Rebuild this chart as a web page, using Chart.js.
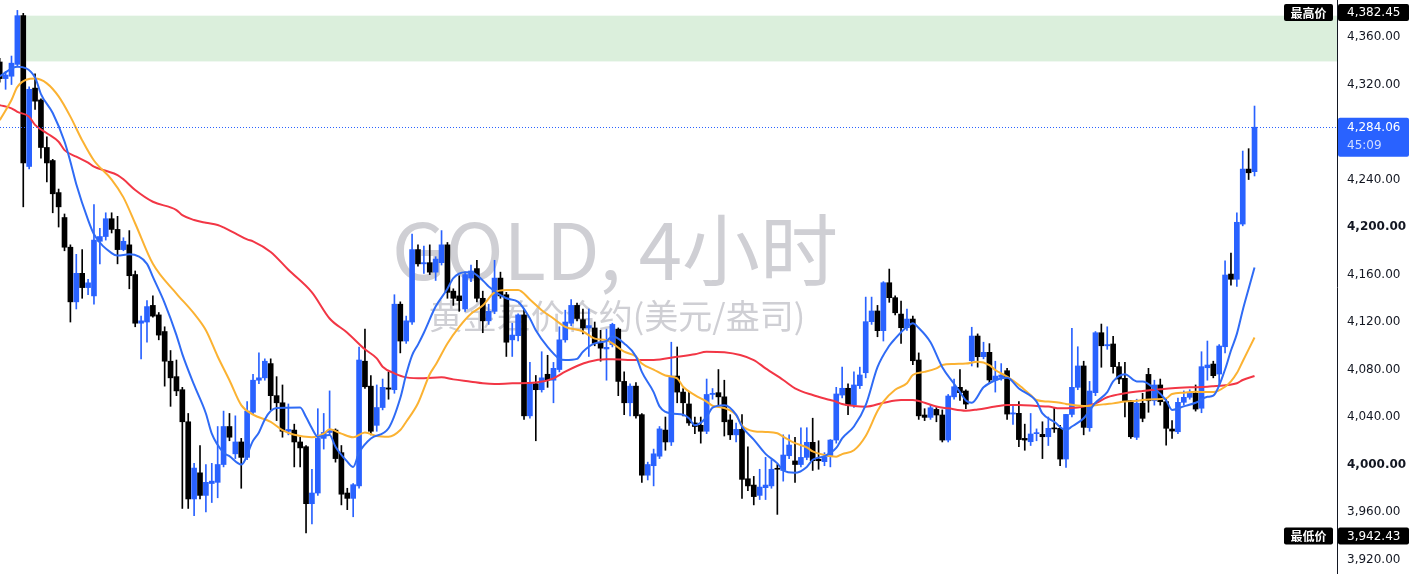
<!DOCTYPE html>
<html>
<head>
<meta charset="utf-8">
<script src="https://cdn.jsdelivr.net/npm/chart.js@4.4.1/dist/chart.umd.min.js"></script>
<style>
html, body { margin: 0; padding: 0; background: #fff; }
#wrap { width: 1410px; height: 574px; position: relative; }
</style>
</head>
<body>
<div id="wrap"><canvas id="chart"></canvas></div>
<script>
// GOLD 4h candles (oldest first)
const opens = [4339,4325,4327,4337,4378,4251,4317,4307,4267,4256,
  4229,4208,4183,4137,4161,4149,4142,4188,4192,4207,
  4198,4181,4185,4160,4119,4120,4134,4126,4112,4087,
  4074,4063,4036,3971,3993,3974,3984,3985,4000,4032,
  4009,4019,4006,4044,4071,4073,4085,4058,4052,4028,
  4029,4019,4015,3967,3976,4022,4027,4029,4010,3976,
  3971.5,3982,4087,4066,4033,4048,4064.5,4063,4135,4104,
  4120,4181,4169,4170,4162,4170,4185,4146,4142,4131,
  4157,4165,4140,4121,4129,4157,4143,4105,4108.5,4126,
  4041,4068,4063,4076,4071,4080,4105,4119,4134,4122,
  4115,4115,4102.5,4097.3,4101,4114,4070,4052,4066,4042,
  3991,3999,4007,4029,4019,4074.5,4061,4051,4035,4033,
  4028,4059,4060.5,4057,4037.5,4025,4029.6,3988,3982.7,3974,
  3980.5,3982,3996.5,3995,4007.4,4003,4000,4006,4018.7,4004.4,
  4002.4,4006.6,4020.6,4058.5,4064.2,4050,4066.4,4077.3,4120.3,4129.3,
  4112.7,4153.1,4140.5,4126.7,4115.2,4122.5,4088,4041.7,4039.7,4046.4,
  4041.7,4020.6,4057,4065,4061.9,4087.4,4108.2,4090.8,4094.5,4071.2,
  4073.4,4079,4042.5,4043.1,4022,4019.2,4026,4025.4,4023.4,4030.5,
  4030.5,4004.6,4042.2,4065,4083,4031,4060.5,4111,4100,4101.5,
  4082.4,4072.6,4053.7,4022.9,4051.6,4075.9,4053.7,4067,4052.9,4029.9,
  4027.6,4052.4,4056.6,4060,4047.4,4081.5,4084.6,4076.2,4099.2,4160.4,
  4156,4202.5,4248.8,4246.6];
const highs = [4342,4331,4344,4382.45,4380,4318,4329,4308,4276,4257,
  4232,4211,4185,4177,4181,4156,4219,4199,4212,4212,
  4209,4191,4197,4163,4125,4138,4142,4128,4116,4096,
  4088,4065,4043,4001,4016,4000,4001,4032,4045,4043,
  4041,4022,4053,4076,4094,4089,4089,4074,4067,4051,
  4034,4023,4016,3996,4047,4043,4062,4030,4016,3980,
  3984,4099,4114,4075,4067,4072,4078,4143,4137,4125,
  4194,4185,4184,4185,4175,4197,4187,4148,4159,4162,
  4168,4172,4146,4135,4172,4162,4145,4119,4127,4131,
  4086,4075,4095,4092,4086,4116,4130,4139,4136,4131,
  4131,4120,4113,4114,4119,4115,4078,4068,4069,4043,
  4002,4013,4032,4040,4103,4099,4064,4061,4040,4040,
  4072,4064,4080,4071,4042,4035,4042,4015,3990,3996,
  4006,4004,4000,4025,4025,4023,4031,4031,4039,4020,
  4010,4021,4065,4082,4068,4078,4082,4141,4141,4134,
  4154,4164.6,4142,4137.7,4131,4125,4094,4047,4050,4048,
  4046,4059,4072,4080,4063,4115.6,4110,4103,4101.8,4087,
  4085,4081,4050,4053,4034,4043,4030,4036,4040,4048,
  4033,4042.2,4114.7,4099.2,4087,4070,4112,4118.3,4116,4108,
  4086,4086,4054,4055,4060,4081,4071,4072,4055,4037,
  4056,4062,4063,4067,4095,4104,4087,4101,4171.5,4178,
  4212,4264,4266,4301.9];
const lows = [4322,4316,4320,4335,4217,4249,4299,4258,4238,4212,
  4200,4180,4120,4131,4140,4143,4135,4169,4189,4195,
  4169,4180,4148,4116,4089,4103,4124,4105,4066,4049,
  4058,3963,3963,3957,3971,3960,3968,3972,3998,4020,
  4005,3980,4004,4042,4068,4071,4046,4037,4023,4025,
  3998,3998,3942.43,3950,3974,4013,4025,4002,3966,3962,
  3956,3980,4064,4025,4028,4046,4055,4060,4094,4102,
  4118,4167,4161,4160,4155,4168,4140,4134,4129,4129,
  4154,4137,4111,4118,4127,4140,4091,4091,4104,4038,
  4039,4020,4061,4065,4052,4078,4103,4117,4121,4110,
  4091,4100,4087,4071,4099,4058,4042,4041,4039,3985,
  3987,3982,4005,4012,4016,4052,4041,4033,4026,4018,
  4026,4055,4049,4024,4021,4019,3971.5,3978,3966,3970.5,
  3970.5,3980,3958,3986,4005,3985,3998,4004,3995,3996,
  3999,3998,4018,4056,4042,4048,4064,4073,4118,4107.6,
  4104,4136.6,4126,4102,4113,4084,4038,4037,4038,4036,
  4019,4019,4055,4054,4047,4083,4082,4089,4068,4061,
  4071,4038,4033.7,4015,4012,4016,4020,4005,4016,4027,
  3999,3997.5,4040,4063,4025,4028,4058,4081.9,4097,4077,
  4068,4040,4022,4021,4036,4044,4050,4050,4016.4,4022,
  4026,4050,4055,4045,4043.6,4071,4073,4067,4094,4151,
  4150,4201,4240,4243];
const closes = [4325,4328,4338,4378,4254,4316,4306,4267,4254,4228,
  4217,4183,4137,4161,4149,4153,4189,4192,4207,4198,
  4181,4188,4159,4119,4121,4133,4125,4109,4087,4073,
  4062,4036,3971,3997,3974,3985,3986,4000,4032,4023,
  4019,4006,4045,4071,4073,4087,4058,4052,4028,4029.5,
  4019,4014,3967,3976,4022,4027,4028.5,4005,3975,3971.5,
  3983,4088,4065.5,4028,4048,4065,4063.5,4135,4104,4121,
  4181,4169,4170,4162,4173,4185,4145,4140,4138,4160,
  4163,4140,4121,4129,4157,4142,4103,4109,4126,4041,
  4069,4063,4073,4071,4081,4105,4120,4134,4123,4115,
  4117,4102,4098,4098.7,4118,4070,4052,4066,4041,3991,
  4000,4009,4030,4019,4074.5,4061,4052,4035,4032,4028,
  4059,4060,4057,4036,4025,4029.6,3987.5,3982,3973,3981,
  3982.7,3996,3996,4008,4016.4,4000,4006,4018.7,4003.2,4003.2,
  4006.6,4020.6,4059.4,4064.2,4050,4067,4075.4,4120.3,4129.3,4112.7,
  4153.1,4140.5,4127.8,4115.2,4122.5,4087.4,4041,4039.7,4047.8,4041.7,
  4020.6,4057.7,4065.5,4060.5,4050.9,4108.2,4090.8,4094.5,4071.2,4074.5,
  4075.4,4042.5,4043.5,4021,4020.6,4025.7,4026.5,4023.4,4030.5,4030,
  4004.6,4042.2,4065,4083,4031.3,4061.9,4111,4100,4101,4082.4,
  4072,4052.9,4023.4,4051.6,4038.9,4053.7,4067,4052.9,4030.5,4028.2,
  4052.4,4056.6,4060.5,4046.7,4082.4,4083.8,4074.8,4099.8,4159.6,4156,
  4204,4248.8,4245.7,4284.06];

// moving averages: [candle index, price]
const maFast = [[0,4327],[3,4335],[6,4326],[7,4312],[9,4296],[11,4272],[12,4255],[13,4236],[15,4206],[16,4194],
  [19,4178],[20,4176],[22,4177],[25,4169],[26,4158],[28,4136],[30,4109],[31,4093],[33,4067],[35,4043],
  [36,4026],[38,4010],[39,4007],[41,4000],[43,4020],[44,4027],[45,4038],[46,4045],[47,4047.5],[51,4048],
  [52,4040],[53,4030.5],[54,4023.4],[56,4024.8],[57,4015],[59,4002.4],[60,3998],[61,4010],[63,4022],[66,4030.5],
  [68,4056],[69,4076],[70,4092],[71,4101],[72,4111],[74,4133],[76,4148],[77,4157],[79,4162],[80,4162],
  [82,4155],[83,4150],[86,4140],[88,4137],[90,4123],[91,4113],[93,4099],[95,4089],[96,4088],[98,4089],
  [99,4095],[101,4102],[103,4104],[104,4108],[106,4102],[108,4091],[109,4078],[111,4061],[112,4049],[114,4043],
  [116,4042],[117,4039],[118,4033],[120,4040],[121,4048],[123,4050],[125,4042],[126,4032],[128,4021],[130,4009],
  [132,4001],[133,3995],[135,3993],[137,3998],[138,4004],[140,4007],[142,4014],[143,4022],[145,4032],[147,4050],
  [149,4082],[151,4100],[152,4106],[154,4116],[155,4119],[156,4115],[158,4103],[160,4082],[162,4068],[163,4061],
  [164,4054],[165,4052],[167,4065],[169,4071],[171,4073],[173,4064],[176,4053],[177,4043],[179,4036],[181,4029],
  [182,4032],[184,4039],[186,4052],[188,4061],[189,4070],[191,4076],[193,4070],[194,4070],[196,4064],[198,4054],
  [199,4046],[201,4049],[203,4052],[205,4057],[206,4058],[208,4080],[209,4096],[210,4110],[211,4130],[212,4148],
  [213,4166]];
const maMid = [[0,4290],[2,4307],[3,4318],[6,4325],[8,4321],[10,4310],[12,4293],[14,4273],[16,4256],[19,4240],
  [21,4225],[23,4203],[26,4169],[30,4144],[33,4127],[35,4113],[37,4091],[39,4071],[41,4050],[43,4042],
  [46,4036],[48,4029],[50,4025],[53,4023],[55,4026],[56,4029.6],[58,4026],[60,4023],[62,4027],[64,4024],
  [66,4023.4],[68,4029],[69,4036],[71,4051.6],[73,4076],[74,4084],[76,4102],[78,4116],[80,4127],[82,4134],
  [84,4145],[86,4147],[88,4147],[90,4139],[92,4130],[94,4123],[96,4116],[99,4112],[101,4106],[103,4104.6],
  [104,4102],[106,4095],[108,4091],[109,4085],[111,4080],[113,4075],[115,4072.6],[116,4065.5],[118,4058.5],[120,4053],
  [121,4049.5],[123,4047.6],[125,4041.7],[126,4033],[128,4028],[130,4027.4],[132,4026.3],[133,4023.4],[135,4018],[137,4014.5],
  [138,4011],[140,4008],[142,4006.6],[143,4008.8],[145,4012],[147,4024],[149,4045],[150,4053],[152,4063],[154,4068.4],
  [155,4075.4],[157,4078],[159,4081],[160,4083.8],[162,4084.7],[164,4085],[166,4086.6],[168,4083.8],[169,4079.6],[171,4074],
  [173,4067],[175,4058.5],[176,4054.3],[178,4053],[180,4052],[181,4051],[184,4049.3],[186,4050],[188,4051],[189,4051.5],
  [191,4053],[193,4053.7],[194,4054.3],[196,4055],[198,4055.7],[199,4059.4],[201,4060.5],[203,4061.3],[205,4061],[206,4061],
  [208,4065.5],[209,4070],[210,4077],[211,4087],[212,4097],[213,4107]];
const maSlow = [[0,4302.7],[2,4300],[3,4297],[5,4292.9],[6,4286],[8,4279],[10,4271.8],[11,4264.8],[13,4259.2],[15,4254.2],
  [16,4250.8],[18,4247.4],[20,4243.8],[21,4240.2],[23,4231.2],[26,4221.3],[30,4214.3],[31,4210],[33,4205.9],[35,4203.6],
  [37,4201.7],[38,4199.7],[40,4194.7],[42,4189.6],[43,4188],[46,4179],[49,4164],[53,4145],[56,4123],[59,4111],
  [62,4097],[64,4089.4],[65,4082.4],[67,4076.8],[69,4073.4],[72,4072.6],[75,4073.4],[77,4071.7],[80,4069.8],[82,4068.4],
  [84,4067.8],[87,4068.4],[91,4069],[94,4072.6],[96,4078.2],[98,4083],[100,4086.6],[103,4088.6],[104,4088.6],[108,4088],
  [111,4088],[115,4090.8],[118,4092.8],[120,4095],[123,4094.5],[128,4088],[130,4081],[133,4071.2],[135,4064.2],[138,4058.5],
  [141,4054.3],[142,4052.9],[143,4050.9],[145,4049.3],[147,4048.7],[150,4052],[153,4054.3],[155,4054.3],[157,4052],[159,4048.8],
  [161,4047.3],[164,4045.3],[166,4046.4],[169,4048.8],[171,4050.1],[173,4050.1],[176,4049.3],[178,4048.8],[180,4047.3],[182,4047.5],
  [184,4048.8],[186,4051.5],[188,4056.6],[191,4060],[194,4061.9],[197,4063.3],[199,4064.2],[202,4065],[205,4065.5],[206,4066],
  [210,4068.4],[211,4071.2],[213,4074.5]];

const priceTicks = [3920, 3960, 4000, 4040, 4080, 4120, 4160, 4200, 4240, 4280, 4320, 4360];
const zonePrices = [4339.5, 4378];   // shaded band
const zoneStart = 4.5;               // candle index where band begins
const highPrice = 4382.45, lowPrice = 3942.43;
const lastPrice = closes[closes.length - 1];
const countdown = '45:09';
const titleText = 'GOLD, 4小时';
const subtitleText = '黄金差价合约(美元/盎司)';

const UP = '#2962ff', DOWN = '#000000';
const candleColors = opens.map((o, i) => closes[i] >= o ? UP : DOWN);
const fmt = v => v.toLocaleString('en-US', { minimumFractionDigits: 2, maximumFractionDigits: 2 });

function roundRect(ctx, x, y, w, h, r) {
    ctx.beginPath();
    ctx.moveTo(x + r, y);
    ctx.arcTo(x + w, y, x + w, y + h, r);
    ctx.arcTo(x + w, y + h, x, y + h, r);
    ctx.arcTo(x, y + h, x, y, r);
    ctx.arcTo(x, y, x + w, y, r);
    ctx.closePath();
}

const overlay = {
    id: 'overlay',
    beforeDatasetsDraw(chart) {
        const { ctx, chartArea: a, scales: { x, y } } = chart;
        ctx.save();
        ctx.beginPath();
        ctx.rect(a.left, a.top, a.right - a.left, a.bottom - a.top);
        ctx.clip();
        // green band
        ctx.fillStyle = 'rgba(76, 175, 80, 0.2)';
        const x0 = x.getPixelForValue(zoneStart);
        const yTop = y.getPixelForValue(zonePrices[1]);
        const yBot = y.getPixelForValue(zonePrices[0]);
        ctx.fillRect(x0, yTop, a.right - x0, yBot - yTop);
        // watermark
        ctx.fillStyle = '#cfcfd4';
        ctx.textAlign = 'center';
        ctx.textBaseline = 'middle';
        ctx.font = '78px "Noto Sans CJK SC", "Noto Sans", sans-serif';
        ctx.fillText(titleText, 615, 250);
        ctx.font = '34px "Noto Sans CJK SC", "Noto Sans", sans-serif';
        ctx.fillText(subtitleText, 617, 316);
        ctx.restore();
    },
    afterDatasetsDraw(chart) {
        const { ctx, chartArea: a, scales: { y } } = chart;
        const py = Math.round(y.getPixelForValue(lastPrice)) + 0.5;
        ctx.save();
        ctx.strokeStyle = UP;
        ctx.lineWidth = 1;
        ctx.setLineDash([1, 2]);
        ctx.beginPath();
        ctx.moveTo(a.left, py);
        ctx.lineTo(a.right, py);
        ctx.stroke();
        ctx.restore();
    },
    afterDraw(chart) {
        const { ctx, chartArea: a, scales: { y } } = chart;
        const axisX = a.right;
        ctx.save();
        ctx.textBaseline = 'middle';

        function tag(label, price, cy) {
            const h = 17;
            ctx.fillStyle = '#000';
            roundRect(ctx, axisX - 53, cy - h / 2, 49, h, 2);
            ctx.fill();
            roundRect(ctx, axisX + 1, cy - h / 2, 71, h, 2);
            ctx.fill();
            ctx.fillStyle = '#fff';
            ctx.textAlign = 'center';
            ctx.font = 'bold 12px "Noto Sans CJK SC", sans-serif';
            ctx.fillText(label, axisX - 28.5, cy + 0.5);
            ctx.textAlign = 'left';
            ctx.font = '12px "DejaVu Sans", sans-serif';
            ctx.fillText(fmt(price), axisX + 10, cy + 0.5);
        }
        tag('最高价', highPrice, Math.max(y.getPixelForValue(highPrice) - 3, 12.5));
        tag('最低价', lowPrice, y.getPixelForValue(lowPrice) + 3);

        // current price box
        const py = y.getPixelForValue(lastPrice);
        ctx.fillStyle = UP;
        roundRect(ctx, axisX + 1, py - 9.5, 71, 39, 2);
        ctx.fill();
        ctx.textAlign = 'left';
        ctx.font = '12px "DejaVu Sans", sans-serif';
        ctx.fillStyle = '#fff';
        ctx.fillText(fmt(lastPrice), axisX + 10, py + 0.5);
        ctx.fillStyle = 'rgba(255,255,255,0.78)';
        ctx.fillText(countdown, axisX + 10, py + 18.5);
        ctx.restore();
    }
};

const lineStyle = (data, color) => ({
    type: 'line',
    data: data.map(([i, v]) => ({ x: i, y: v })),
    borderColor: color,
    borderWidth: 2,
    pointRadius: 0,
    cubicInterpolationMode: 'monotone',
    order: 0
});

new Chart(document.getElementById('chart'), {
    type: 'bar',
    data: {
        datasets: [
            lineStyle(maFast, '#2f6bf5'),
            lineStyle(maMid, '#fbb232'),
            lineStyle(maSlow, '#f23645'),
            {
                label: 'body',
                data: opens.map((o, i) => ({ x: i, y: [o, closes[i]] })),
                backgroundColor: candleColors,
                barThickness: 5,
                minBarLength: 1,
                grouped: false,
                order: 1
            },
            {
                label: 'wick',
                data: lows.map((l, i) => ({ x: i, y: [l, highs[i]] })),
                backgroundColor: candleColors,
                barThickness: 1,
                grouped: false,
                order: 2
            }
        ]
    },
    options: {
        responsive: true,
        maintainAspectRatio: false,
        animation: false,
        devicePixelRatio: 1,
        events: [],
        layout: { padding: 0 },
        plugins: {
            legend: { display: false },
            tooltip: { enabled: false }
        },
        scales: {
            x: {
                type: 'linear',
                display: false,
                offset: false,
                min: 0.05,
                max: 227
            },
            y: {
                position: 'right',
                min: 3907.8,
                max: 4391.2,
                grid: { display: false, drawTicks: false },
                border: { display: true, color: '#131722', width: 1 },
                afterBuildTicks(scale) {
                    scale.ticks = priceTicks.map(v => ({ value: v }));
                },
                afterFit(scale) {
                    scale.width = 73;
                    scale.paddingTop = 0;
                    scale.paddingBottom = 0;
                },
                ticks: {
                    padding: 10,
                    color: '#131722',
                    font: ctx => ({
                        family: '"DejaVu Sans", sans-serif',
                        size: 12,
                        weight: ctx.tick && ctx.tick.value % 200 === 0 ? 'bold' : 'normal'
                    }),
                    callback: v => fmt(v)
                }
            }
        }
    },
    plugins: [overlay]
});
</script>
</body>
</html>
